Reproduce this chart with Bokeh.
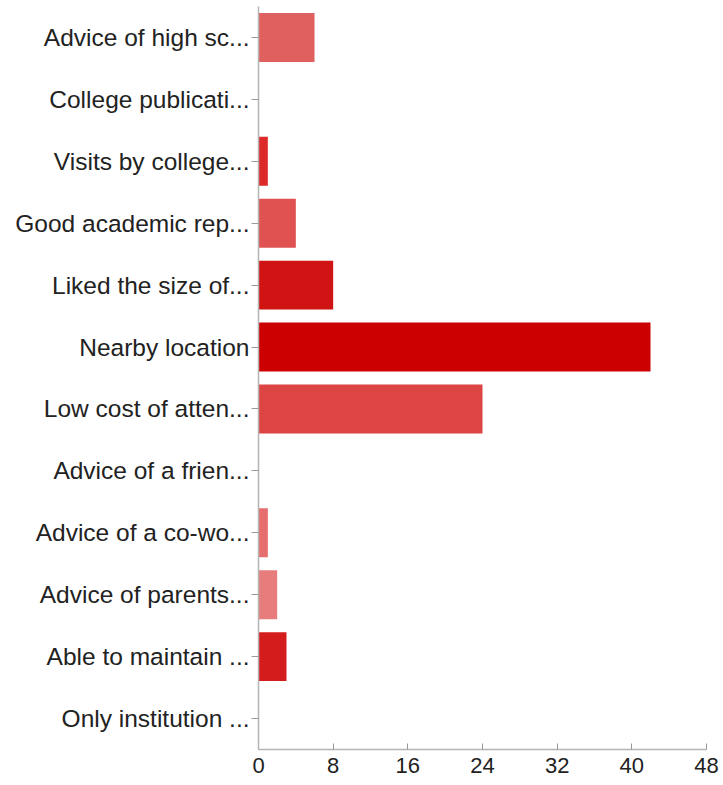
from bokeh.plotting import figure
from bokeh.models import FactorRange, Range1d, FixedTicker, ColumnDataSource
from bokeh.embed import file_html
from bokeh.resources import INLINE

categories = [
    "Advice of high sc...",
    "College publicati...",
    "Visits by college...",
    "Good academic rep...",
    "Liked the size of...",
    "Nearby location",
    "Low cost of atten...",
    "Advice of a frien...",
    "Advice of a co-wo...",
    "Advice of parents...",
    "Able to maintain ...",
    "Only institution ...",
]
values = [6, 0, 1, 4, 8, 42, 24, 0, 1, 2, 3, 0]
colors = ["#E06060", "#E06060", "#DC2A2A", "#E05252", "#D01414", "#CC0000",
          "#DD4545", "#DD4545", "#E66E6E", "#E87C7C", "#D41C1C", "#D41C1C"]
x_ticks = [0, 8, 16, 24, 32, 40, 48]

source = ColumnDataSource(dict(cat=categories, val=values, color=colors))

FONT = "Liberation Sans"

p = figure(
    y_range=FactorRange(*reversed(categories), range_padding=0),
    x_range=Range1d(0, 48),
    frame_width=448, frame_height=743,
    min_border_left=258, min_border_right=16, min_border_top=6, min_border_bottom=34,
    output_backend="svg", toolbar_location=None,
)
p.hbar(y="cat", right="val", left=0, height=0.79, fill_color="color",
       line_color=None, source=source)

p.xgrid.visible = False
p.ygrid.visible = False
p.outline_line_color = None

p.xaxis.ticker = FixedTicker(ticks=x_ticks)
p.xaxis.axis_line_color = "#b5b5b5"
p.xaxis.axis_line_width = 1.5
p.xaxis.major_tick_line_color = "#999999"
p.xaxis.major_tick_in = 6
p.xaxis.major_tick_out = 0
p.xaxis.minor_tick_line_color = None
p.xaxis.major_label_standoff = 8
p.xaxis.major_label_text_font = FONT
p.xaxis.major_label_text_font_size = "22px"
p.xaxis.major_label_text_color = "#222222"

p.yaxis.axis_line_color = "#b5b5b5"
p.yaxis.axis_line_width = 1.5
p.yaxis.major_tick_line_color = "#999999"
p.yaxis.major_tick_in = 0
p.yaxis.major_tick_out = 7
p.yaxis.major_label_standoff = 2
p.yaxis.major_label_text_font = FONT
p.yaxis.major_label_text_font_size = "24.5px"
p.yaxis.major_label_text_color = "#222222"

open("out.html", "w").write(file_html(p, INLINE))
